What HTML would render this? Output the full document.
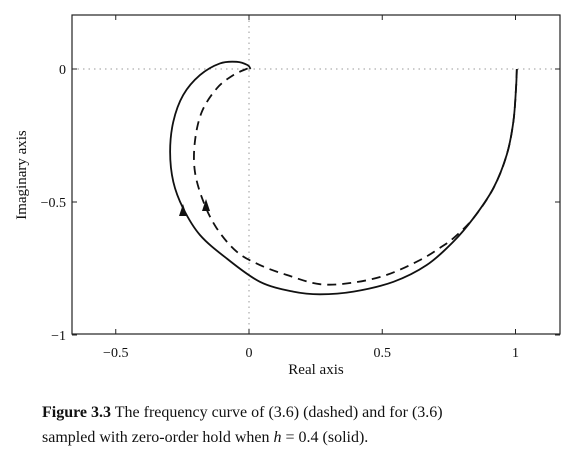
<!DOCTYPE html>
<html><head><meta charset="utf-8"><style>
html,body{margin:0;padding:0;background:#fff;width:584px;height:462px;overflow:hidden}
svg{display:block}
text{font-family:"Liberation Serif",serif;fill:#111}
</style></head><body>
<svg id="chart" width="584" height="462">
<rect x="72" y="15" width="488" height="319" fill="none" stroke="#222" stroke-width="1.2"/>
<g id="ticks"></g>
<g id="curves"></g>
<text x="316" y="374" font-size="15" text-anchor="middle">Real axis</text>
<text transform="translate(26,175) rotate(-90)" font-size="15" text-anchor="middle">Imaginary axis</text>
<text x="42" y="417" font-size="16"><tspan font-weight="bold">Figure 3.3</tspan> The frequency curve of (3.6) (dashed) and for (3.6)</text>
<text x="42" y="442" font-size="16">sampled with zero-order hold when <tspan font-style="italic">h</tspan> = 0.4 (solid).</text>
</svg>
<script>
const xTicks=[-0.5,0,0.5,1];
const xTickLabels=["−0.5","0","0.5","1"];
const yTicks=[0,-0.5,-1];
const yTickLabels=["0","−0.5","−1"];
const solidRe=[1.005,1.002,0.992,0.967,0.917,0.842,0.767,0.667,0.542,0.392,0.266,0.166,0.041,-0.084,-0.184,-0.247,-0.284,-0.296,-0.284,-0.247,-0.184,-0.109,-0.046,-0.006,0.006];
const solidIm=[0,-0.071,-0.198,-0.323,-0.448,-0.561,-0.649,-0.737,-0.800,-0.837,-0.847,-0.837,-0.800,-0.712,-0.624,-0.524,-0.424,-0.311,-0.198,-0.098,-0.023,0.021,0.027,0.015,0];
const dashRe=[1.005,1.002,0.992,0.967,0.917,0.842,0.767,0.717,0.642,0.517,0.391,0.266,0.141,0.041,-0.046,-0.121,-0.171,-0.203,-0.203,-0.177,-0.121,-0.059,-0.003];
const dashIm=[0,-0.071,-0.198,-0.323,-0.448,-0.561,-0.636,-0.672,-0.718,-0.774,-0.803,-0.809,-0.774,-0.737,-0.687,-0.599,-0.499,-0.386,-0.273,-0.161,-0.073,-0.023,0.003];
const X=v=>249+v*266.5, Y=v=>69-v*266;
const NS="http://www.w3.org/2000/svg";
function mk(t,a,p){const e=document.createElementNS(NS,t);for(const k in a)e.setAttribute(k,a[k]);p.appendChild(e);return e;}
const tg=document.getElementById('ticks'), cg=document.getElementById('curves');
const zx=mk('line',{x1:X(0),x2:X(0),y1:15,y2:334,stroke:'#999','stroke-dasharray':'1.5,4'},tg);


const zy=mk('line',{x1:72,x2:560,y1:Y(0),y2:Y(0),stroke:'#999','stroke-dasharray':'1.5,4'},tg);


xTicks.forEach((v,i)=>{
 mk('line',{x1:X(v),x2:X(v),y1:334,y2:329,stroke:'#222'},tg);
 mk('line',{x1:X(v),x2:X(v),y1:15,y2:20,stroke:'#222'},tg);
 const t=mk('text',{x:X(v),y:357,'font-size':14,'text-anchor':'middle'},tg);t.textContent=xTickLabels[i];
 
 
});
yTicks.forEach((v,i)=>{
 mk('line',{x1:72,x2:77,y1:Y(v),y2:Y(v),stroke:'#222'},tg);
 mk('line',{x1:560,x2:555,y1:Y(v),y2:Y(v),stroke:'#222'},tg);
 const t=mk('text',{x:66,y:Y(v)+5,'font-size':14,'text-anchor':'end'},tg);t.textContent=yTickLabels[i];
 
 
});
function path(re,im){
 const p=re.map((r,i)=>[X(r),Y(im[i])]);
 let d='M'+p[0][0]+','+p[0][1];
 for(let i=0;i<p.length-1;i++){
  const p0=p[Math.max(0,i-1)],p1=p[i],p2=p[i+1],p3=p[Math.min(p.length-1,i+2)];
  d+=' C'+(p1[0]+(p2[0]-p0[0])/6)+','+(p1[1]+(p2[1]-p0[1])/6)+' '+(p2[0]-(p3[0]-p1[0])/6)+','+(p2[1]-(p3[1]-p1[1])/6)+' '+p2[0]+','+p2[1];
 }
 return d;
}
const s=mk('path',{d:path(solidRe,solidIm),fill:'none',stroke:'#111','stroke-width':1.8},cg);


const dd=mk('path',{d:path(dashRe,dashIm),fill:'none',stroke:'#111','stroke-width':1.8,'stroke-dasharray':'9,6'},cg);


function arrow(x,y,name){const a=mk('path',{d:`M${x},${y-8} L${x-4},${y+4} L${x+4},${y+4} Z`,fill:'#111'},cg);
 
 }
arrow(183,212,'solid-direction-arrow');
arrow(206,207,'dashed-direction-arrow');
</script>
</body></html>
